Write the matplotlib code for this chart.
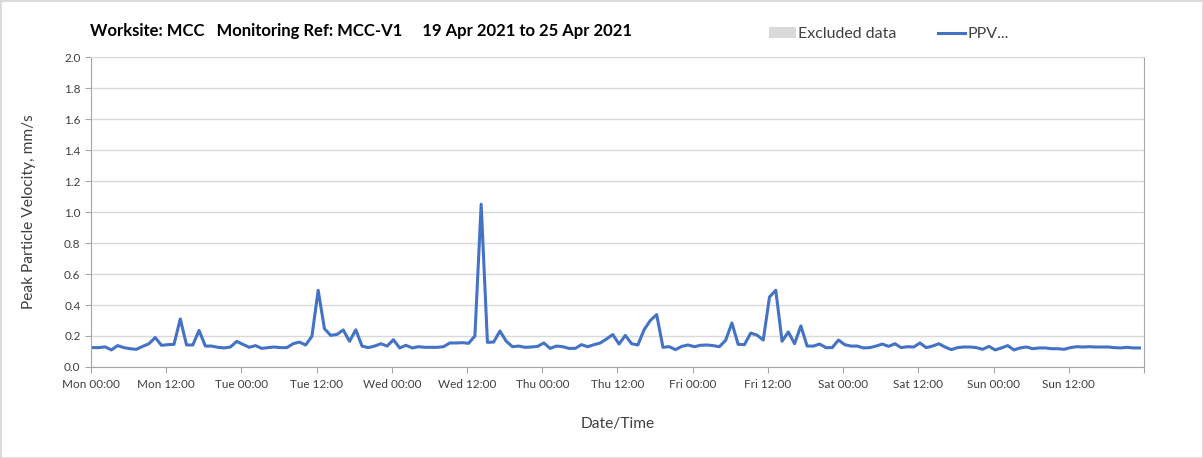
import numpy as np
import pandas as pd
import matplotlib
matplotlib.use('Agg')
import matplotlib.pyplot as plt
import matplotlib.dates as mdates
from matplotlib.patches import Rectangle, Patch
from matplotlib.lines import Line2D

plt.rcParams['font.family'] = ['Lato', 'DejaVu Sans']

# hourly PPV readings, Mon 19 Apr 2021 00:00 -> Sun 25 Apr 2021 23:00
ppv = [
    0.125, 0.125, 0.130, 0.110, 0.138, 0.125, 0.118, 0.114, 0.133, 0.150, 0.190, 0.140,
    0.144, 0.146, 0.310, 0.142, 0.142, 0.236, 0.135, 0.135, 0.127, 0.123, 0.129, 0.165,
    0.146, 0.127, 0.138, 0.120, 0.125, 0.129, 0.125, 0.125, 0.150, 0.161, 0.142, 0.198,
    0.495, 0.247, 0.204, 0.210, 0.239, 0.166, 0.240, 0.135, 0.125, 0.135, 0.150, 0.135,
    0.176, 0.123, 0.140, 0.123, 0.131, 0.127, 0.127, 0.127, 0.131, 0.155, 0.155, 0.157,
    0.153, 0.200, 1.050, 0.159, 0.161, 0.232, 0.166, 0.131, 0.135, 0.127, 0.129, 0.133,
    0.155, 0.120, 0.135, 0.131, 0.120, 0.120, 0.144, 0.131, 0.144, 0.155, 0.181, 0.209,
    0.148, 0.204, 0.150, 0.142, 0.241, 0.301, 0.338, 0.127, 0.131, 0.112, 0.133, 0.142,
    0.131, 0.140, 0.142, 0.138, 0.131, 0.172, 0.284, 0.146, 0.144, 0.219, 0.206, 0.174,
    0.452, 0.495, 0.166, 0.226, 0.150, 0.265, 0.135, 0.135, 0.148, 0.125, 0.125, 0.174,
    0.144, 0.135, 0.135, 0.123, 0.125, 0.135, 0.148, 0.133, 0.150, 0.125, 0.131, 0.129,
    0.155, 0.125, 0.135, 0.150, 0.129, 0.112, 0.125, 0.129, 0.129, 0.125, 0.114, 0.133,
    0.110, 0.123, 0.138, 0.110, 0.123, 0.129, 0.118, 0.123, 0.123, 0.118, 0.118, 0.114,
    0.125, 0.131, 0.129, 0.131, 0.129, 0.129, 0.129, 0.125, 0.123, 0.127, 0.123, 0.123,
]
times = pd.date_range('2021-04-19 00:15', periods=len(ppv), freq='h')
start, end = pd.Timestamp('2021-04-19'), pd.Timestamp('2021-04-26')

title = 'Worksite: MCC   Monitoring Ref: MCC-V1     19 Apr 2021 to 25 Apr 2021'

fig = plt.figure(figsize=(12.03, 4.58), dpi=100)
ax = fig.add_axes([0.0756, 0.1987, 0.8754, 0.6768])

ax.plot(times, ppv, color='#4472C4', lw=2.2, solid_joinstyle='round')

ax.set_xlim(start, end)
ax.set_ylim(0, 2.0)
ax.set_yticks(np.arange(0, 2.01, 0.2))
ax.yaxis.set_major_formatter(plt.FormatStrFormatter('%.1f'))

def fmt_time(x, pos):
    d = mdates.num2date(x).replace(tzinfo=None)
    if d >= end:
        return ''
    return d.strftime('%a %H:%M')

ax.xaxis.set_major_locator(mdates.HourLocator(byhour=[0, 12]))
ax.xaxis.set_major_formatter(plt.FuncFormatter(fmt_time))
ax.xaxis.set_minor_locator(mdates.DayLocator())

ax.grid(axis='y', color='#d9d9d9', lw=1)
ax.grid(axis='x', which='minor', color='#d9d9d9', lw=1)
ax.set_axisbelow(True)

for s in ax.spines.values():
    s.set_color('#a6a6a6')
ax.spines['top'].set_color('#d9d9d9')
ax.tick_params(which='major', length=4, color='#a6a6a6', labelsize=8.5, labelcolor='#404040', direction='out')
ax.tick_params(axis='x', which='minor', length=0)
ax.tick_params(axis='x', pad=5)

ax.set_ylabel('Peak Particle Velocity, mm/s', fontsize=11.2, color='#404040', labelpad=20)
ax.set_xlabel('Date/Time', fontsize=11.2, color='#404040', labelpad=19)

fig.text(0.075, 0.933, title, fontsize=12, fontweight='bold', color='black', va='center')

handles = [Patch(facecolor='#d9d9d9', edgecolor='none'),
           Line2D([0], [0], color='#4472C4', lw=2.2)]
fig.legend(handles, ['Excluded data', 'PPV...'], ncol=2, frameon=False,
           loc='center left', bbox_to_anchor=(0.627, 0.925), fontsize=11.5,
           handlelength=1.7, handletextpad=0.15, columnspacing=2.6,
           labelcolor='#404040')

fig.patches.append(Rectangle((0, 0), 1, 1, transform=fig.transFigure, fill=False,
                             edgecolor='#d9d9d9', lw=2))

fig.savefig('out.png', dpi=100)
